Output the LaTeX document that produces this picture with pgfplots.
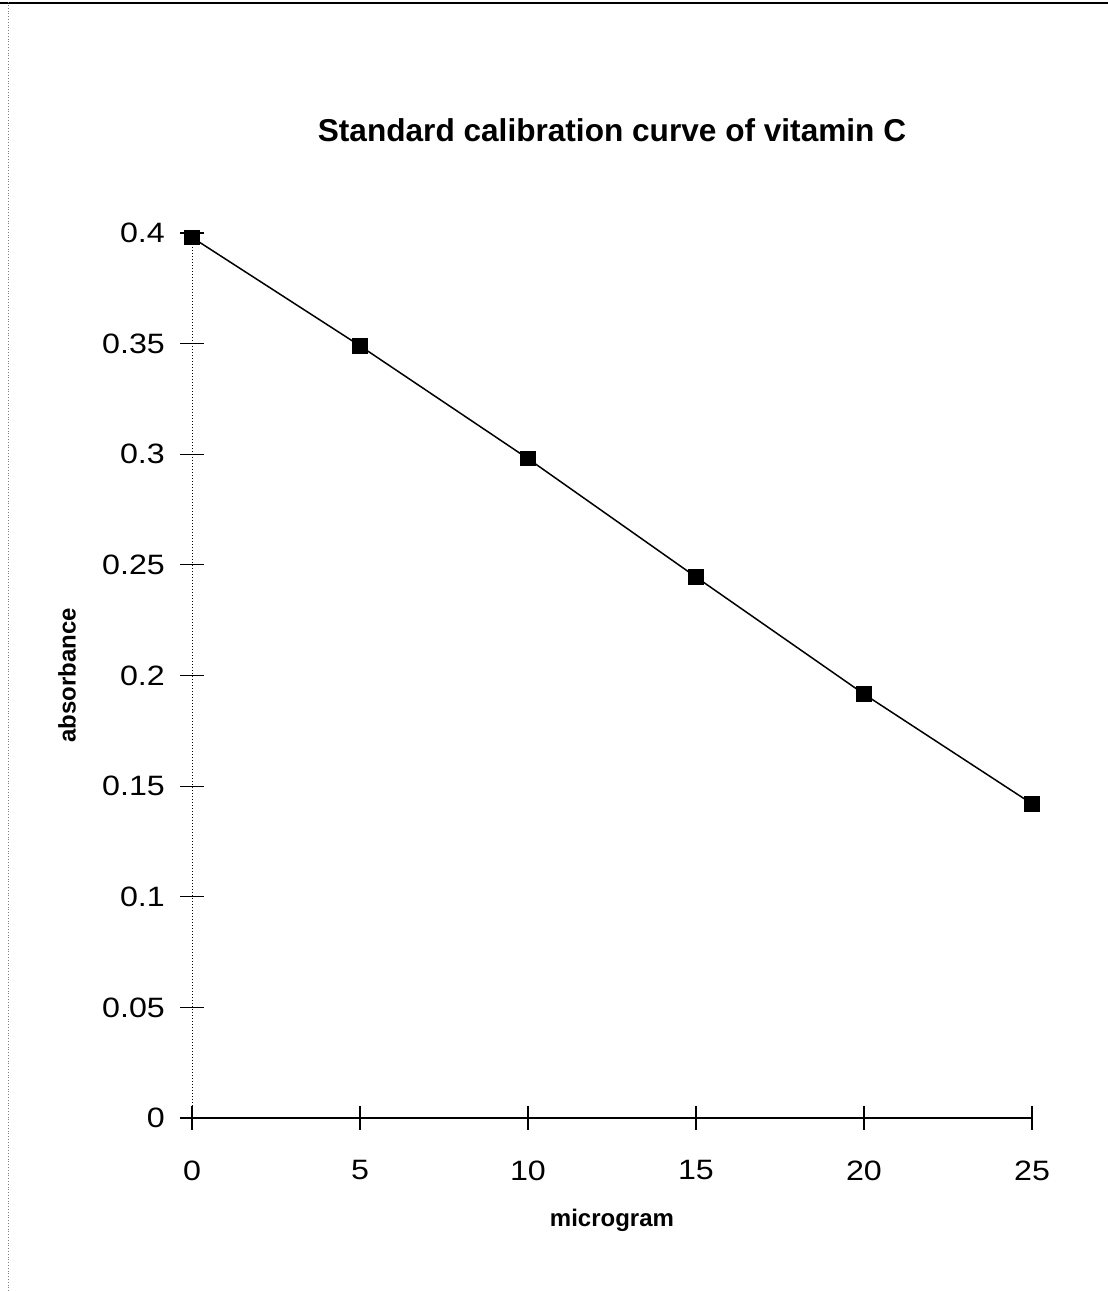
\documentclass[border=0pt]{standalone}
\usepackage{fontspec}
\setmainfont{Liberation Sans}
\newfontfamily\tickfont[FakeStretch=1.15]{Liberation Sans}
\usepackage{pgfplots}
\pgfplotsset{compat=1.18}
\begin{document}
\begin{tikzpicture}[x=1pt,y=1pt]
\path[use as bounding box] (0,0) rectangle (554,645.5);
\draw[line width=1pt] (0,644) -- (554,644);
\draw[densely dotted, gray, line width=0.4pt] (4,0) -- (4,645);
\begin{axis}[
  at={(96pt,86.5pt)}, anchor=south west,
  scale only axis, width=420pt, height=442.5pt,
  xmin=0, xmax=25, ymin=0, ymax=0.4,
  axis x line=bottom, axis y line=left,
  x axis line style={-, line width=0.8pt},
  y axis line style={-, densely dotted, line width=0.5pt},
  xtick={0,5,10,15,20,25},
  ytick={0,0.05,0.1,0.15,0.2,0.25,0.3,0.35,0.4},
  xticklabels={0,5,10,15,20,25},
  yticklabels={0,0.05,0.1,0.15,0.2,0.25,0.3,0.35,0.4},
  tick align=center, major tick length=11.5pt,
  tick style={black, line width=0.6pt},
  tick label style={font=\tickfont\fontsize{14}{16}\selectfont},
  xticklabel style={yshift=-12pt},
  yticklabel style={xshift=-4.3pt},
  clip=false,
  title={Standard calibration curve of vitamin C},
  title style={at={(axis description cs:0.5,1)}, anchor=center, yshift=45.5pt, font=\bfseries\fontsize{15.8}{18}\selectfont},
  xlabel={microgram},
  ylabel={absorbance},
  every axis x label/.style={at={(axis description cs:0.5,-0.1153)}, anchor=center, font=\bfseries\fontsize{12}{14}\selectfont},
  every axis y label/.style={at={(axis description cs:-0.1488,0.5)}, anchor=center, rotate=90, font=\bfseries\fontsize{12}{14}\selectfont},
]
\addplot[black, line width=0.75pt, mark=square*, mark size=3.5pt, mark options={solid}]
  coordinates {(0,0.398)(5,0.349)(10,0.298)(15,0.2445)(20,0.1916)(25,0.142)};
\end{axis}
\end{tikzpicture}
\end{document}
